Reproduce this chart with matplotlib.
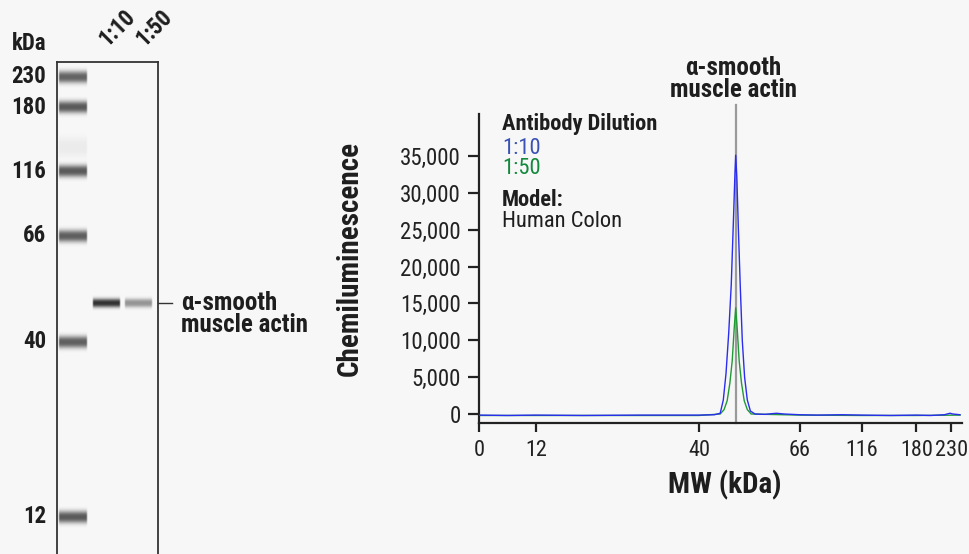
import numpy as np
import matplotlib
matplotlib.use('Agg')
import matplotlib.pyplot as plt
from matplotlib import font_manager

names = {f.name for f in font_manager.fontManager.ttflist}
FONT = 'Roboto'
for cand in ['Roboto Condensed', 'Archivo Narrow', 'Fira Sans Condensed']:
    if cand in names:
        FONT = cand
        break
plt.rcParams['font.family'] = [FONT, 'DejaVu Sans']

# ---- gel (simulated blot) ----
ladder_kda = [230, 180, 116, 66, 40, 12]
ladder_migration = [14.7, 45.3, 109, 174, 279.7, 454.7]
ladder_intensity = [0.60, 0.64, 0.64, 0.62, 0.62, 0.64]
lanes = ['1:10', '1:50']
band_kda = 49.5
band_intensity = [0.80, 0.40]

# ---- electropherogram ----
blue_kda = [0, 6, 12, 20, 30, 40, 44, 45.5, 46.3, 47.0, 47.7, 48.35, 48.9, 49.3,
            49.5, 49.8, 50.2, 50.67, 51.2, 51.8, 52.5, 53.3, 54.5, 57, 60, 62,
            66, 80, 100, 116, 150, 180, 200, 220, 228, 232, 243]
blue_signal = [-150, -200, -150, -200, -150, -150, -100, 100, 1900, 5500, 11000,
               17500, 26000, 32500, 35100, 32000, 25000, 17500, 10000, 5000, 1900,
               400, 0, -50, 100, 0, -100, -150, -100, -150, -200, -150, -200,
               -100, 100, 0, -100]
green_kda = [0, 12, 40, 45.5, 46.5, 47.3, 48.0, 48.6, 49.1, 49.5, 49.9, 50.4,
             51.0, 51.7, 52.5, 53.5, 66, 116, 180, 243]
green_signal = [-200, -200, -200, 0, 600, 1800, 4200, 7200, 11500, 14400, 11500,
                7200, 4200, 1800, 600, 0, -150, -200, -200, -150]
y_ticks = [0, 5000, 10000, 15000, 20000, 25000, 30000, 35000]
mw_ticks = [0, 12, 40, 66, 116, 180, 230]

BG = '#f7f7f7'
TXT = '#1e1e1e'
W, H = 969, 554

fig = plt.figure(figsize=(W / 100, H / 100), dpi=100)
fig.patch.set_facecolor(BG)


def px(x, y):
    return x / W, 1 - y / H


# ================= gel panel =================
gx0, gx1, gtop = 57, 158, 62
ax_gel = fig.add_axes([gx0 / W, 0, (gx1 - gx0) / W, (H - gtop) / H])
ax_gel.set_facecolor(BG)
ax_gel.set_xlim(0, gx1 - gx0)
ax_gel.set_ylim(H - gtop, 0)
ax_gel.set_xticks([])
ax_gel.set_yticks([])
for s in ['left', 'right', 'top']:
    ax_gel.spines[s].set_color('#333333')
    ax_gel.spines[s].set_linewidth(1.3)
ax_gel.spines['bottom'].set_visible(False)


def band(ax, xc, width, mig, half_h, alpha, core=0.55):
    ny, nx = 80, 60
    t = np.linspace(-1, 1, ny)
    s = np.linspace(-1, 1, nx)
    v = np.exp(-(np.abs(t) / core) ** 2.5)
    h = np.clip((1 - np.abs(s)) / 0.1, 0, 1)
    img = np.zeros((ny, nx, 4))
    img[..., 3] = alpha * v[:, None] * h[None, :]
    ax.imshow(img, extent=(xc - width / 2, xc + width / 2, mig + half_h, mig - half_h),
              aspect='auto', interpolation='bilinear', zorder=1)


ladder_x = 16
lane_x = [49, 81.5]
lane_label_dx = [1, 5.5]

for kda, mig, a in zip(ladder_kda, ladder_migration, ladder_intensity):
    band(ax_gel, ladder_x, 30, mig, 11, a)
    ax_gel.text(-11, mig, str(kda), ha='right', va='center', fontsize=16.5,
                fontweight='bold', color=TXT, clip_on=False)
# faint smear in ladder lane
band(ax_gel, ladder_x, 30, 85, 18, 0.05)

# sample band position from the ladder calibration
band_mig = np.interp(band_kda, ladder_kda[::-1], ladder_migration[::-1])
for xc, a in zip(lane_x, band_intensity):
    band(ax_gel, xc, 29, band_mig, 8, a)

for xc, dx, lab in zip(lane_x, lane_label_dx, lanes):
    ax_gel.text(xc + dx, -15, lab, rotation=45, rotation_mode='anchor', ha='left',
                va='baseline', fontsize=16.5, fontweight='bold', color=TXT, clip_on=False)

fig.text(*px(29, 43), 'kDa', ha='center', va='center', fontsize=16.5,
         fontweight='bold', color=TXT)
ax_gel.plot([gx1 - gx0, gx1 - gx0 + 14], [band_mig, band_mig], color='#333333',
            lw=1.0, clip_on=False)
ax_gel.text(124, band_mig - 12, 'α-smooth\nmuscle actin', ha='left', va='top',
            fontsize=18, fontweight='bold', color=TXT, linespacing=0.9, clip_on=False)

# ================= electropherogram =================
ax_l, ax_r, ax_t, ax_b = 479, 962, 114, 422.5
ax = fig.add_axes([ax_l / W, (H - ax_b) / H, (ax_r - ax_l) / W, (ax_b - ax_t) / H])
ax.set_facecolor(BG)

# MW axis calibration (non-linear, from ladder)
cal_kda = [0, 12, 40, 66, 116, 180, 230, 260]
cal_pos = [0, 57, 219.7, 320.3, 382.7, 437, 472, 491.8]
ax.set_xscale('function', functions=(lambda x: np.interp(x, cal_kda, cal_pos),
                                     lambda p: np.interp(p, cal_pos, cal_kda)))
ax.set_xlim(0, 246)
ax.set_ylim(-1153, 40694)

ax.axvline(band_kda, ymin=0, ymax=1.029, color='#9a9a9a', lw=1.6, clip_on=False, zorder=1)
ax.plot(green_kda, green_signal, color='#1f9a35', lw=1.0, zorder=2)
ax.plot(blue_kda, blue_signal, color='#2a2cf0', lw=1.0, zorder=3)

ax.spines['top'].set_visible(False)
ax.spines['right'].set_visible(False)
for s in ['left', 'bottom']:
    ax.spines[s].set_linewidth(1.6)
    ax.spines[s].set_color('#222222')

ax.set_yticks(y_ticks)
ax.set_yticklabels([f'{v:,}' for v in y_ticks])
ax.set_xticks(mw_ticks)
ax.set_xticklabels([str(v) for v in mw_ticks])
ax.tick_params(axis='y', length=8, width=1.6, pad=5, labelsize=16.5, colors='#222222')
ax.tick_params(axis='x', length=6.5, width=1.6, pad=6, labelsize=16, colors='#222222')
ax.minorticks_off()

fig.text(*px(350, 258), 'Chemiluminescence', rotation=90, ha='center', va='center',
         fontsize=21, fontweight='bold', color=TXT)
fig.text(*px(725, 485), 'MW (kDa)', ha='center', va='center', fontsize=21,
         fontweight='bold', color=TXT)

fig.text(*px(733, 79), 'α-smooth\nmuscle actin', ha='center', va='center',
         fontsize=18, fontweight='bold', color=TXT, linespacing=0.9)

fs = 16.2
fig.text(*px(502, 124), 'Antibody Dilution', ha='left', va='center', fontsize=fs,
         fontweight='bold', color=TXT)
fig.text(*px(502, 148), '1:10', ha='left', va='center', fontsize=fs, color='#3b52b4')
fig.text(*px(502, 169), '1:50', ha='left', va='center', fontsize=fs, color='#13893c')
fig.text(*px(502, 200), 'Model:', ha='left', va='center', fontsize=fs,
         fontweight='bold', color=TXT)
fig.text(*px(502, 222), 'Human Colon', ha='left', va='center', fontsize=fs, color=TXT)

fig.savefig('out.png', dpi=100, facecolor=BG)
